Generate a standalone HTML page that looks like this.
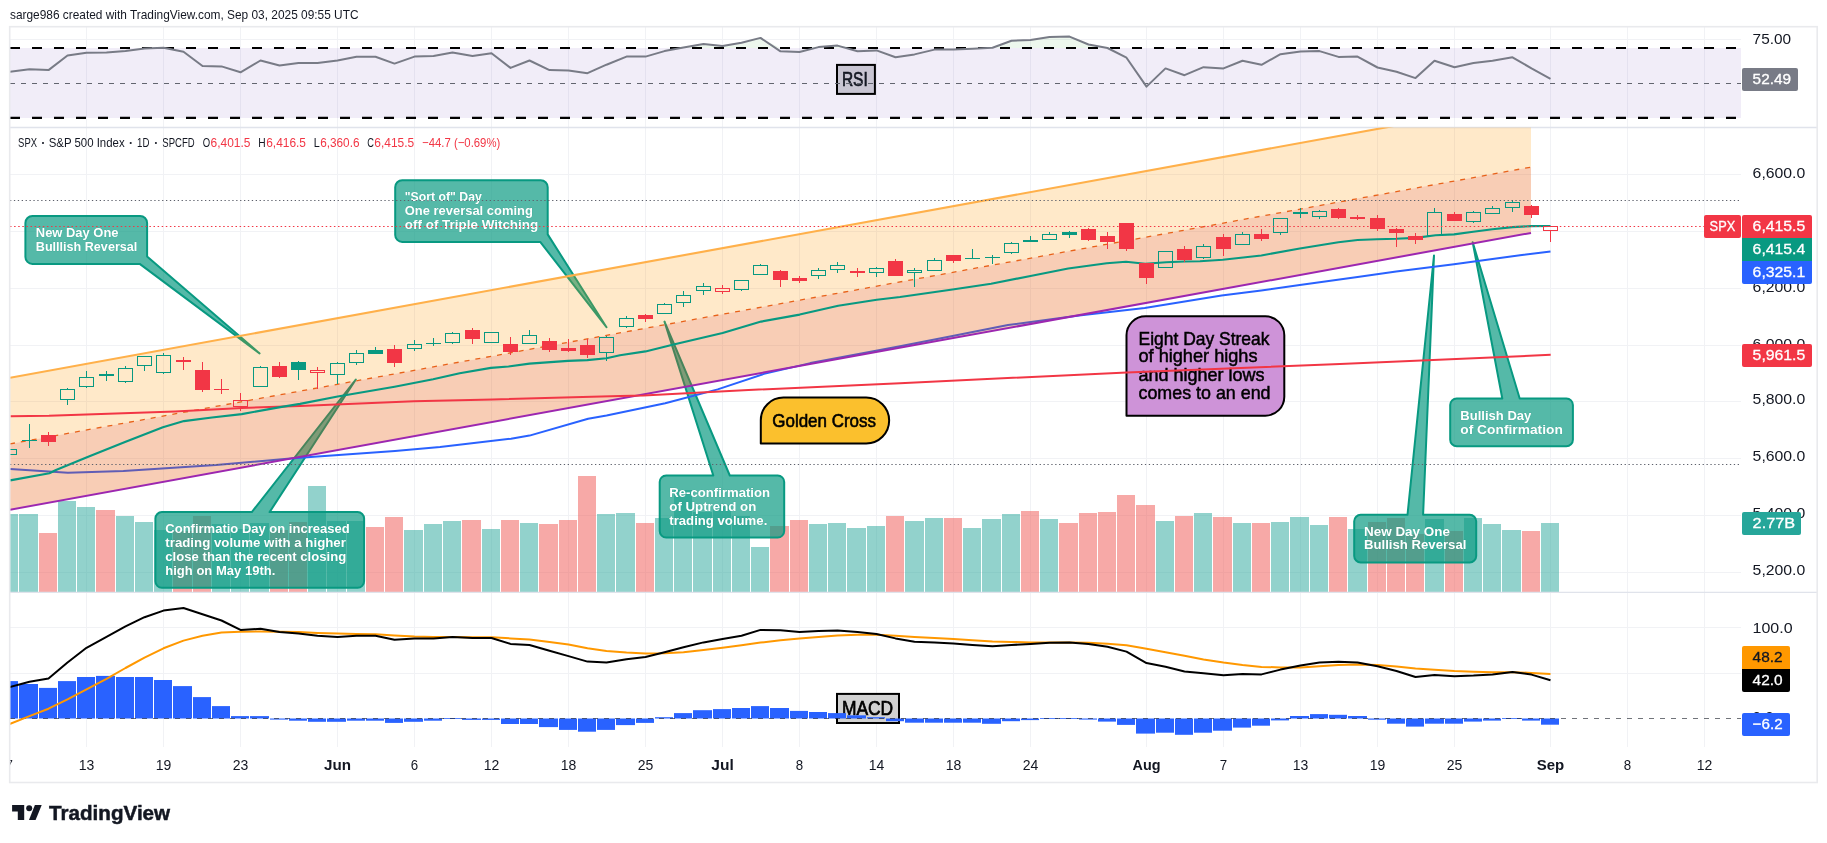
<!DOCTYPE html><html><head><meta charset="utf-8"><title>SPX chart</title><style>html,body{margin:0;padding:0;background:#fff}body{width:1827px;height:843px;overflow:hidden}</style></head><body><svg width="1827" height="843" viewBox="0 0 1827 843" font-family="Liberation Sans, sans-serif" style="display:block;will-change:transform">
<rect width="1827" height="843" fill="#fff"/>
<text x="10" y="19" font-size="13.5" fill="#131722" font-weight="normal" text-anchor="start" textLength="348.5" lengthAdjust="spacingAndGlyphs" >sarge986 created with TradingView.com, Sep 03, 2025 09:55 UTC</text>
<defs><clipPath id="cm"><rect x="10" y="127.5" width="1731" height="464.79999999999995"/></clipPath><clipPath id="cr"><rect x="10" y="27" width="1731" height="100.5"/></clipPath><clipPath id="cd"><rect x="10" y="592.3" width="1731" height="154.70000000000005"/></clipPath><clipPath id="call"><rect x="10" y="127.5" width="1731" height="464.79999999999995"/></clipPath></defs>
<line x1="86.5" y1="27" x2="86.5" y2="747" stroke="#f1f2f5" stroke-width="1"/>
<line x1="163.5" y1="27" x2="163.5" y2="747" stroke="#f1f2f5" stroke-width="1"/>
<line x1="240.5" y1="27" x2="240.5" y2="747" stroke="#f1f2f5" stroke-width="1"/>
<line x1="337.5" y1="27" x2="337.5" y2="747" stroke="#f1f2f5" stroke-width="1"/>
<line x1="414.5" y1="27" x2="414.5" y2="747" stroke="#f1f2f5" stroke-width="1"/>
<line x1="491.5" y1="27" x2="491.5" y2="747" stroke="#f1f2f5" stroke-width="1"/>
<line x1="568.5" y1="27" x2="568.5" y2="747" stroke="#f1f2f5" stroke-width="1"/>
<line x1="645.5" y1="27" x2="645.5" y2="747" stroke="#f1f2f5" stroke-width="1"/>
<line x1="722.5" y1="27" x2="722.5" y2="747" stroke="#f1f2f5" stroke-width="1"/>
<line x1="799.5" y1="27" x2="799.5" y2="747" stroke="#f1f2f5" stroke-width="1"/>
<line x1="876.5" y1="27" x2="876.5" y2="747" stroke="#f1f2f5" stroke-width="1"/>
<line x1="953.5" y1="27" x2="953.5" y2="747" stroke="#f1f2f5" stroke-width="1"/>
<line x1="1030.5" y1="27" x2="1030.5" y2="747" stroke="#f1f2f5" stroke-width="1"/>
<line x1="1146.5" y1="27" x2="1146.5" y2="747" stroke="#f1f2f5" stroke-width="1"/>
<line x1="1223.5" y1="27" x2="1223.5" y2="747" stroke="#f1f2f5" stroke-width="1"/>
<line x1="1300.5" y1="27" x2="1300.5" y2="747" stroke="#f1f2f5" stroke-width="1"/>
<line x1="1377.5" y1="27" x2="1377.5" y2="747" stroke="#f1f2f5" stroke-width="1"/>
<line x1="1454.5" y1="27" x2="1454.5" y2="747" stroke="#f1f2f5" stroke-width="1"/>
<line x1="1550.5" y1="27" x2="1550.5" y2="747" stroke="#f1f2f5" stroke-width="1"/>
<line x1="1627.5" y1="27" x2="1627.5" y2="747" stroke="#f1f2f5" stroke-width="1"/>
<line x1="1704.5" y1="27" x2="1704.5" y2="747" stroke="#f1f2f5" stroke-width="1"/>
<line x1="10" y1="39.5" x2="1741" y2="39.5" stroke="#f1f2f5"/>
<g clip-path="url(#cr)">
<rect x="10" y="48" width="1731" height="70" fill="#7e57c2" fill-opacity="0.11"/>
<path d="M9.5,48.0 L29.5,48.0 L48.5,48.0 L67.5,48.0 L86.5,48.0 L106.5,48.0 L125.5,48.0 L144.5,48.0 L163.5,47.8 L183.5,48.0 L202.5,48.0 L221.5,48.0 L240.5,48.0 L260.5,48.0 L279.5,48.0 L298.5,48.0 L317.5,48.0 L337.5,48.0 L356.5,48.0 L375.5,48.0 L394.5,48.0 L414.5,48.0 L433.5,48.0 L452.5,48.0 L472.5,48.0 L491.5,48.0 L510.5,48.0 L529.5,48.0 L549.5,48.0 L568.5,48.0 L587.5,48.0 L606.5,48.0 L626.5,48.0 L645.5,48.0 L664.5,48.0 L683.5,47.4 L703.5,44.1 L722.5,46.0 L741.5,42.8 L760.5,37.9 L780.5,48.0 L799.5,48.0 L818.5,47.1 L837.5,45.6 L857.5,48.0 L876.5,48.0 L895.5,48.0 L914.5,48.0 L934.5,48.0 L953.5,48.0 L972.5,48.0 L992.5,47.8 L1011.5,40.8 L1030.5,39.9 L1049.5,36.9 L1069.5,36.6 L1088.5,44.5 L1107.5,48.0 L1126.5,48.0 L1146.5,48.0 L1165.5,48.0 L1184.5,48.0 L1203.5,48.0 L1223.5,48.0 L1242.5,48.0 L1261.5,48.0 L1280.5,48.0 L1300.5,48.0 L1319.5,48.0 L1338.5,48.0 L1357.5,48.0 L1377.5,48.0 L1396.5,48.0 L1415.5,48.0 L1434.5,48.0 L1454.5,48.0 L1473.5,48.0 L1492.5,48.0 L1512.5,48.0 L1531.5,48.0 L1550.5,48.0 L1550.5,48 L9.5,48 Z" fill="#4caf50" fill-opacity="0.1"/>
<rect x="837" y="64.9" width="37.9" height="29" fill="#c8c5d2" stroke="#000" stroke-width="2"/>
<text x="841.9" y="86" font-size="20" fill="#131722" font-weight="normal" text-anchor="start" textLength="25.8" lengthAdjust="spacingAndGlyphs" stroke="#131722" stroke-width="0.7">RSI</text>
<line x1="10" y1="83.5" x2="1741" y2="83.5" stroke="#62656f" stroke-width="1" stroke-dasharray="5 6"/>
<line x1="10" y1="48" x2="1741" y2="48" stroke="#000" stroke-width="2.2" stroke-dasharray="10 12"/>
<line x1="10" y1="117.9" x2="1741" y2="117.9" stroke="#000" stroke-width="2.2" stroke-dasharray="10 12"/>
<polyline fill="none" stroke="#787b86" stroke-width="2" stroke-linejoin="round" points="9.5,71.9 29.5,69.3 48.5,70.1 67.5,55.5 86.5,52.8 106.5,52.4 125.5,51.1 144.5,48.5 163.5,47.8 183.5,51.7 202.5,66.0 221.5,66.4 240.5,72.3 260.5,60.5 279.5,65.5 298.5,63.1 317.5,63.1 337.5,60.5 356.5,56.8 375.5,56.8 394.5,63.6 414.5,56.6 433.5,55.9 452.5,52.6 472.5,55.9 491.5,53.3 510.5,67.9 529.5,60.5 549.5,70.1 568.5,70.4 587.5,73.2 606.5,64.7 626.5,56.6 645.5,56.6 664.5,51.1 683.5,47.4 703.5,44.1 722.5,46.0 741.5,42.8 760.5,37.9 780.5,51.3 799.5,52.0 818.5,47.1 837.5,45.6 857.5,51.3 876.5,50.4 895.5,57.2 914.5,54.4 934.5,49.6 953.5,49.6 972.5,48.7 992.5,47.8 1011.5,40.8 1030.5,39.9 1049.5,36.9 1069.5,36.6 1088.5,44.5 1107.5,48.0 1126.5,57.7 1146.5,86.6 1165.5,68.4 1184.5,75.2 1203.5,67.2 1223.5,68.4 1242.5,60.7 1261.5,64.8 1280.5,54.2 1300.5,51.6 1319.5,51.1 1338.5,56.9 1357.5,56.6 1377.5,67.5 1396.5,71.8 1415.5,78.1 1434.5,60.7 1454.5,67.2 1473.5,63.1 1492.5,60.7 1512.5,57.3 1531.5,68.4 1550.5,78.8"/>
</g>
<line x1="10" y1="127.5" x2="1817.2" y2="127.5" stroke="#e0e3eb" stroke-width="1.3"/>
<line x1="10" y1="174.5" x2="1741" y2="174.5" stroke="#f1f2f5"/>
<line x1="10" y1="231.5" x2="1741" y2="231.5" stroke="#f1f2f5"/>
<line x1="10" y1="288.5" x2="1741" y2="288.5" stroke="#f1f2f5"/>
<line x1="10" y1="345.5" x2="1741" y2="345.5" stroke="#f1f2f5"/>
<line x1="10" y1="401.5" x2="1741" y2="401.5" stroke="#f1f2f5"/>
<line x1="10" y1="458.5" x2="1741" y2="458.5" stroke="#f1f2f5"/>
<line x1="10" y1="515.5" x2="1741" y2="515.5" stroke="#f1f2f5"/>
<line x1="10" y1="572.5" x2="1741" y2="572.5" stroke="#f1f2f5"/>
<g clip-path="url(#cm)">
<rect x="0" y="514" width="18" height="78" fill="#26a69a" fill-opacity="0.5"/>
<rect x="19" y="514" width="19" height="78" fill="#26a69a" fill-opacity="0.5"/>
<rect x="39" y="533" width="18" height="59" fill="#ef5350" fill-opacity="0.5"/>
<rect x="58" y="501" width="18" height="91" fill="#26a69a" fill-opacity="0.5"/>
<rect x="77" y="507" width="18" height="85" fill="#26a69a" fill-opacity="0.5"/>
<rect x="96" y="510" width="19" height="82" fill="#ef5350" fill-opacity="0.5"/>
<rect x="116" y="516" width="18" height="76" fill="#26a69a" fill-opacity="0.5"/>
<rect x="135" y="522" width="18" height="70" fill="#26a69a" fill-opacity="0.5"/>
<rect x="154" y="530" width="18" height="62" fill="#26a69a" fill-opacity="0.5"/>
<rect x="173" y="531" width="19" height="61" fill="#ef5350" fill-opacity="0.5"/>
<rect x="193" y="516" width="18" height="76" fill="#ef5350" fill-opacity="0.5"/>
<rect x="212" y="524" width="18" height="68" fill="#26a69a" fill-opacity="0.5"/>
<rect x="231" y="529" width="18" height="63" fill="#26a69a" fill-opacity="0.5"/>
<rect x="250" y="523" width="19" height="69" fill="#26a69a" fill-opacity="0.5"/>
<rect x="270" y="530" width="18" height="62" fill="#ef5350" fill-opacity="0.5"/>
<rect x="289" y="522" width="18" height="70" fill="#ef5350" fill-opacity="0.5"/>
<rect x="308" y="486" width="18" height="106" fill="#26a69a" fill-opacity="0.5"/>
<rect x="327" y="521" width="19" height="71" fill="#26a69a" fill-opacity="0.5"/>
<rect x="347" y="521" width="18" height="71" fill="#26a69a" fill-opacity="0.5"/>
<rect x="366" y="527" width="18" height="65" fill="#ef5350" fill-opacity="0.5"/>
<rect x="385" y="517" width="18" height="75" fill="#ef5350" fill-opacity="0.5"/>
<rect x="404" y="530" width="19" height="62" fill="#26a69a" fill-opacity="0.5"/>
<rect x="424" y="524" width="18" height="68" fill="#26a69a" fill-opacity="0.5"/>
<rect x="443" y="521" width="18" height="71" fill="#26a69a" fill-opacity="0.5"/>
<rect x="462" y="520" width="19" height="72" fill="#ef5350" fill-opacity="0.5"/>
<rect x="482" y="529" width="18" height="63" fill="#26a69a" fill-opacity="0.5"/>
<rect x="501" y="520" width="18" height="72" fill="#ef5350" fill-opacity="0.5"/>
<rect x="520" y="523" width="18" height="69" fill="#26a69a" fill-opacity="0.5"/>
<rect x="539" y="524" width="19" height="68" fill="#ef5350" fill-opacity="0.5"/>
<rect x="559" y="520" width="18" height="72" fill="#ef5350" fill-opacity="0.5"/>
<rect x="578" y="476" width="18" height="116" fill="#ef5350" fill-opacity="0.5"/>
<rect x="597" y="514" width="18" height="78" fill="#26a69a" fill-opacity="0.5"/>
<rect x="616" y="513" width="19" height="79" fill="#26a69a" fill-opacity="0.5"/>
<rect x="636" y="523" width="18" height="69" fill="#ef5350" fill-opacity="0.5"/>
<rect x="655" y="518" width="18" height="74" fill="#26a69a" fill-opacity="0.5"/>
<rect x="674" y="490" width="18" height="102" fill="#26a69a" fill-opacity="0.5"/>
<rect x="693" y="512" width="19" height="80" fill="#26a69a" fill-opacity="0.5"/>
<rect x="713" y="505" width="18" height="87" fill="#26a69a" fill-opacity="0.5"/>
<rect x="732" y="516" width="18" height="76" fill="#26a69a" fill-opacity="0.5"/>
<rect x="751" y="547" width="18" height="45" fill="#26a69a" fill-opacity="0.5"/>
<rect x="770" y="526" width="19" height="66" fill="#ef5350" fill-opacity="0.5"/>
<rect x="790" y="520" width="18" height="72" fill="#ef5350" fill-opacity="0.5"/>
<rect x="809" y="524" width="18" height="68" fill="#26a69a" fill-opacity="0.5"/>
<rect x="828" y="523" width="18" height="69" fill="#26a69a" fill-opacity="0.5"/>
<rect x="847" y="528" width="19" height="64" fill="#26a69a" fill-opacity="0.5"/>
<rect x="867" y="526" width="18" height="66" fill="#26a69a" fill-opacity="0.5"/>
<rect x="886" y="516" width="18" height="76" fill="#ef5350" fill-opacity="0.5"/>
<rect x="905" y="521" width="19" height="71" fill="#26a69a" fill-opacity="0.5"/>
<rect x="925" y="518" width="18" height="74" fill="#26a69a" fill-opacity="0.5"/>
<rect x="944" y="518" width="18" height="74" fill="#ef5350" fill-opacity="0.5"/>
<rect x="963" y="528" width="18" height="64" fill="#26a69a" fill-opacity="0.5"/>
<rect x="982" y="519" width="19" height="73" fill="#26a69a" fill-opacity="0.5"/>
<rect x="1002" y="514" width="18" height="78" fill="#26a69a" fill-opacity="0.5"/>
<rect x="1021" y="511" width="18" height="81" fill="#ef5350" fill-opacity="0.5"/>
<rect x="1040" y="519" width="18" height="73" fill="#26a69a" fill-opacity="0.5"/>
<rect x="1059" y="523" width="19" height="69" fill="#ef5350" fill-opacity="0.5"/>
<rect x="1079" y="513" width="18" height="79" fill="#ef5350" fill-opacity="0.5"/>
<rect x="1098" y="512" width="18" height="80" fill="#ef5350" fill-opacity="0.5"/>
<rect x="1117" y="495" width="18" height="97" fill="#ef5350" fill-opacity="0.5"/>
<rect x="1136" y="505" width="19" height="87" fill="#ef5350" fill-opacity="0.5"/>
<rect x="1156" y="521" width="18" height="71" fill="#26a69a" fill-opacity="0.5"/>
<rect x="1175" y="516" width="18" height="76" fill="#ef5350" fill-opacity="0.5"/>
<rect x="1194" y="513" width="18" height="79" fill="#26a69a" fill-opacity="0.5"/>
<rect x="1213" y="517" width="19" height="75" fill="#ef5350" fill-opacity="0.5"/>
<rect x="1233" y="523" width="18" height="69" fill="#26a69a" fill-opacity="0.5"/>
<rect x="1252" y="523" width="18" height="69" fill="#ef5350" fill-opacity="0.5"/>
<rect x="1271" y="522" width="18" height="70" fill="#26a69a" fill-opacity="0.5"/>
<rect x="1290" y="517" width="19" height="75" fill="#26a69a" fill-opacity="0.5"/>
<rect x="1310" y="525" width="18" height="67" fill="#26a69a" fill-opacity="0.5"/>
<rect x="1329" y="517" width="18" height="75" fill="#ef5350" fill-opacity="0.5"/>
<rect x="1348" y="529" width="19" height="63" fill="#26a69a" fill-opacity="0.5"/>
<rect x="1368" y="522" width="18" height="70" fill="#ef5350" fill-opacity="0.5"/>
<rect x="1387" y="518" width="18" height="74" fill="#ef5350" fill-opacity="0.5"/>
<rect x="1406" y="534" width="18" height="58" fill="#ef5350" fill-opacity="0.5"/>
<rect x="1425" y="519" width="19" height="73" fill="#26a69a" fill-opacity="0.5"/>
<rect x="1445" y="531" width="18" height="61" fill="#ef5350" fill-opacity="0.5"/>
<rect x="1464" y="518" width="18" height="74" fill="#26a69a" fill-opacity="0.5"/>
<rect x="1483" y="524" width="18" height="68" fill="#26a69a" fill-opacity="0.5"/>
<rect x="1502" y="530" width="19" height="62" fill="#26a69a" fill-opacity="0.5"/>
<rect x="1522" y="531" width="18" height="61" fill="#ef5350" fill-opacity="0.5"/>
<rect x="1541" y="523" width="18" height="69" fill="#26a69a" fill-opacity="0.5"/>
<path d="M161.9,512.1 L251.8,512.1 L355.8,379.5 L269.6,512.1 L357.6,512.1 A6.5,6.5 0 0 1 364.1,518.6 L364.1,581.3 A6.5,6.5 0 0 1 357.6,587.8 L161.9,587.8 A6.5,6.5 0 0 1 155.4,581.3 L155.4,518.6 A6.5,6.5 0 0 1 161.9,512.1 Z" fill="#089981" fill-opacity="0.69" stroke="#089981" stroke-width="2" stroke-linejoin="round"/>
<text x="165.3" y="533.2" font-size="13.6" fill="#fff" font-weight="bold" text-anchor="start" textLength="184.3" lengthAdjust="spacingAndGlyphs" stroke="#0a7d6a" stroke-opacity="0.3" stroke-width="0.5" paint-order="stroke">Confirmatio Day on increased</text>
<text x="165.3" y="547.2" font-size="13.6" fill="#fff" font-weight="bold" text-anchor="start" textLength="180.6" lengthAdjust="spacingAndGlyphs" stroke="#0a7d6a" stroke-opacity="0.3" stroke-width="0.5" paint-order="stroke">trading volume with a higher</text>
<text x="165.3" y="561.2" font-size="13.6" fill="#fff" font-weight="bold" text-anchor="start" textLength="181" lengthAdjust="spacingAndGlyphs" stroke="#0a7d6a" stroke-opacity="0.3" stroke-width="0.5" paint-order="stroke">close than the recent closing</text>
<text x="165.3" y="575.2" font-size="13.6" fill="#fff" font-weight="bold" text-anchor="start" textLength="110" lengthAdjust="spacingAndGlyphs" stroke="#0a7d6a" stroke-opacity="0.3" stroke-width="0.5" paint-order="stroke">high on May 19th.</text>
<path d="M666.2,475.5 L713.3,475.5 L664.5,321.6 L729.8,475.5 L777.7,475.5 A6.5,6.5 0 0 1 784.2,482.0 L784.2,531.0 A6.5,6.5 0 0 1 777.7,537.5 L666.2,537.5 A6.5,6.5 0 0 1 659.7,531.0 L659.7,482.0 A6.5,6.5 0 0 1 666.2,475.5 Z" fill="#089981" fill-opacity="0.69" stroke="#089981" stroke-width="2" stroke-linejoin="round"/>
<text x="669.3" y="497.3" font-size="13.6" fill="#fff" font-weight="bold" text-anchor="start" textLength="100.8" lengthAdjust="spacingAndGlyphs" stroke="#0a7d6a" stroke-opacity="0.3" stroke-width="0.5" paint-order="stroke">Re-confirmation</text>
<text x="669.3" y="511.2" font-size="13.6" fill="#fff" font-weight="bold" text-anchor="start" textLength="87" lengthAdjust="spacingAndGlyphs" stroke="#0a7d6a" stroke-opacity="0.3" stroke-width="0.5" paint-order="stroke">of Uptrend on</text>
<text x="669.3" y="525.1" font-size="13.6" fill="#fff" font-weight="bold" text-anchor="start" textLength="98" lengthAdjust="spacingAndGlyphs" stroke="#0a7d6a" stroke-opacity="0.3" stroke-width="0.5" paint-order="stroke">trading volume.</text>
<path d="M32.4,215.9 L140.1,215.9 A7,7 0 0 1 147.1,222.9 L147.1,256.4 L259.6,353.4 L139.7,263.9 L32.4,263.9 A7,7 0 0 1 25.4,256.9 L25.4,222.9 A7,7 0 0 1 32.4,215.9 Z" fill="#089981" fill-opacity="0.69" stroke="#089981" stroke-width="2" stroke-linejoin="round"/>
<text x="35.8" y="236.7" font-size="13.6" fill="#fff" font-weight="bold" text-anchor="start" textLength="82.7" lengthAdjust="spacingAndGlyphs" stroke="#0a7d6a" stroke-opacity="0.3" stroke-width="0.5" paint-order="stroke">New Day One</text>
<text x="35.8" y="250.6" font-size="13.6" fill="#fff" font-weight="bold" text-anchor="start" textLength="101.5" lengthAdjust="spacingAndGlyphs" stroke="#0a7d6a" stroke-opacity="0.3" stroke-width="0.5" paint-order="stroke">Bulllish Reversal</text>
<path d="M402.2,180.2 L540.7,180.2 A7,7 0 0 1 547.7,187.2 L547.7,234.4 L606.5,327.2 L540.2,241.9 L402.2,241.9 A7,7 0 0 1 395.2,234.9 L395.2,187.2 A7,7 0 0 1 402.2,180.2 Z" fill="#089981" fill-opacity="0.69" stroke="#089981" stroke-width="2" stroke-linejoin="round"/>
<text x="404.8" y="200.8" font-size="13.6" fill="#fff" font-weight="bold" text-anchor="start" textLength="77" lengthAdjust="spacingAndGlyphs" stroke="#0a7d6a" stroke-opacity="0.3" stroke-width="0.5" paint-order="stroke">"Sort of" Day</text>
<text x="404.8" y="214.9" font-size="13.6" fill="#fff" font-weight="bold" text-anchor="start" textLength="128" lengthAdjust="spacingAndGlyphs" stroke="#0a7d6a" stroke-opacity="0.3" stroke-width="0.5" paint-order="stroke">One reversal coming</text>
<text x="404.8" y="229.0" font-size="13.6" fill="#fff" font-weight="bold" text-anchor="start" textLength="133.4" lengthAdjust="spacingAndGlyphs" stroke="#0a7d6a" stroke-opacity="0.3" stroke-width="0.5" paint-order="stroke">off of Triple Witching</text>
<path d="M1456.7,398.5 L1502.3,398.5 L1472.7,242.3 L1519.7,398.5 L1566.4,398.5 A6.5,6.5 0 0 1 1572.9,405.0 L1572.9,439.7 A6.5,6.5 0 0 1 1566.4,446.2 L1456.7,446.2 A6.5,6.5 0 0 1 1450.2,439.7 L1450.2,405.0 A6.5,6.5 0 0 1 1456.7,398.5 Z" fill="#089981" fill-opacity="0.69" stroke="#089981" stroke-width="2" stroke-linejoin="round"/>
<text x="1460.3" y="419.6" font-size="13.6" fill="#fff" font-weight="bold" text-anchor="start" textLength="71" lengthAdjust="spacingAndGlyphs" stroke="#0a7d6a" stroke-opacity="0.3" stroke-width="0.5" paint-order="stroke">Bullish Day</text>
<text x="1460.3" y="433.9" font-size="13.6" fill="#fff" font-weight="bold" text-anchor="start" textLength="102.5" lengthAdjust="spacingAndGlyphs" stroke="#0a7d6a" stroke-opacity="0.3" stroke-width="0.5" paint-order="stroke">of Confirmation</text>
<path d="M1360.7,514.8 L1407.5,514.8 L1434,255.5 L1423.1,514.8 L1469.7,514.8 A6.5,6.5 0 0 1 1476.2,521.3 L1476.2,555.9 A6.5,6.5 0 0 1 1469.7,562.4 L1360.7,562.4 A6.5,6.5 0 0 1 1354.2,555.9 L1354.2,521.3 A6.5,6.5 0 0 1 1360.7,514.8 Z" fill="#089981" fill-opacity="0.69" stroke="#089981" stroke-width="2" stroke-linejoin="round"/>
<text x="1364" y="535.5" font-size="13.6" fill="#fff" font-weight="bold" text-anchor="start" textLength="86" lengthAdjust="spacingAndGlyphs" stroke="#0a7d6a" stroke-opacity="0.3" stroke-width="0.5" paint-order="stroke">New Day One</text>
<text x="1364" y="549.1" font-size="13.6" fill="#fff" font-weight="bold" text-anchor="start" textLength="102.4" lengthAdjust="spacingAndGlyphs" stroke="#0a7d6a" stroke-opacity="0.3" stroke-width="0.5" paint-order="stroke">Bullish Reversal</text>
<path d="M760.8,443.5 L760.8,420.2 A22.6,22.6 0 0 1 783.4,397.6 L866.2,397.6 A22.95,22.95 0 0 1 866.2,443.5 Z" fill="#fbc02d" stroke="#000" stroke-width="2" stroke-linejoin="round"/>
<text x="772.3" y="427.2" font-size="18.5" fill="#000" font-weight="normal" text-anchor="start" textLength="103.7" lengthAdjust="spacingAndGlyphs" stroke="#000" stroke-width="0.6">Golden Cross</text>
<path d="M1126.5,415.7 L1126.5,335.3 A19,19 0 0 1 1145.5,316.3 L1265.3,316.3 A19,19 0 0 1 1284.3,335.3 L1284.3,396.7 A19,19 0 0 1 1265.3,415.7 Z" fill="#ce93d8" stroke="#000" stroke-width="2" stroke-linejoin="round"/>
<text x="1138.5" y="344.9" font-size="18.5" fill="#000" font-weight="normal" text-anchor="start" textLength="131" lengthAdjust="spacingAndGlyphs" stroke="#000" stroke-width="0.5">Eight Day Streak</text>
<text x="1138.5" y="362.3" font-size="18.5" fill="#000" font-weight="normal" text-anchor="start" textLength="119" lengthAdjust="spacingAndGlyphs" stroke="#000" stroke-width="0.5">of higher highs</text>
<text x="1138.5" y="380.7" font-size="18.5" fill="#000" font-weight="normal" text-anchor="start" textLength="126" lengthAdjust="spacingAndGlyphs" stroke="#000" stroke-width="0.5">and higher lows</text>
<text x="1138.5" y="398.8" font-size="18.5" fill="#000" font-weight="normal" text-anchor="start" textLength="132" lengthAdjust="spacingAndGlyphs" stroke="#000" stroke-width="0.5">comes to an end</text>
<polyline fill="none" stroke="#2962ff" stroke-width="2" stroke-linejoin="round" points="10.2,469 67.9,472.7 123.4,471.1 216,465 293,458.2 395,451.1 440,447.1 511,438.7 529.5,435.6 588.1,418.7 606.6,415.6 665.2,403.3 717.7,389.4 764,373.9 810.3,363.1 872,351.4 900,346.2 950,336.5 1008,325 1079,315.6 1144.7,307.9 1221.6,295.5 1261.3,290.4 1299.8,285.1 1357.6,276.9 1396.2,271.6 1454,264.3 1520,255.3 1550.5,251.4"/>
<polygon points="10,377.8 1531,101.0 1531,167.1 10,443.9" fill="#ff9800" fill-opacity="0.21"/>
<polygon points="10,443.9 1531,167.1 1531,232.9 10,509.7" fill="#e65100" fill-opacity="0.29"/>
<line x1="10" y1="377.8" x2="1531" y2="101.0" stroke="#ffb04a" stroke-width="2.1"/>
<line x1="10" y1="443.9" x2="1531" y2="167.1" stroke="#e8621a" stroke-width="1.3" stroke-dasharray="5 6"/>
<line x1="10" y1="509.7" x2="1531" y2="232.9" stroke="#9c27b0" stroke-width="2"/>
<polyline fill="none" stroke="#f23645" stroke-width="2" stroke-linejoin="round" points="10.5,416.2 49,415.8 175.2,411.4 241.7,407.9 300,406 413.9,401.2 492.7,399.5 620,396 643.6,395.5 748.5,390 900,383.2 1126.8,372.4 1340,364.1 1550.7,354.8"/>
<polyline fill="none" stroke="#089981" stroke-width="2.1" stroke-linejoin="round" points="10.2,480.4 49.4,473.3 56,470 87.6,457 125,442 162.9,427.2 183.9,421.1 212,417.5 241.7,414.1 280.3,407.1 300,403.9 337.7,396.5 394.6,386.7 433.1,379.3 459.7,373.3 490.9,367.9 508.4,366.5 529.5,363.6 568,360.9 587.3,360.1 606.5,358.3 620,355.3 645.5,351.4 673.6,344.4 722.6,333 761.1,321.6 799.7,314.6 838.2,305.8 876.8,299.7 900,297 952.5,289.5 991.1,283.7 1030.5,276 1068.2,268.5 1106.7,263.2 1126,261.8 1145.2,263.7 1166.2,262.3 1184.6,261.5 1200,261.2 1222.8,259.8 1261.3,255.5 1299.8,248.5 1338.4,242.3 1357.6,240 1376.9,239.2 1396.2,238.8 1415.4,237.9 1435.6,235.3 1454,234.4 1473.2,231.8 1492.5,229.2 1512.7,227.1 1531,226.1 1550.5,226"/>
<rect x="9.0" y="447" width="1" height="2" fill="#089981"/>
<rect x="9.0" y="455" width="1" height="1" fill="#089981"/>
<rect x="2.5" y="449.5" width="14" height="5" fill="none" stroke="#089981" stroke-width="1"/>
<rect x="29.0" y="424" width="1" height="24" fill="#089981"/>
<rect x="22.0" y="440" width="15" height="1" fill="#089981"/>
<rect x="48.0" y="432" width="1" height="14" fill="#f23645"/>
<rect x="41.0" y="435" width="15" height="7" fill="#f23645"/>
<rect x="67.0" y="388" width="1" height="1" fill="#089981"/>
<rect x="67.0" y="400" width="1" height="5" fill="#089981"/>
<rect x="60.5" y="389.5" width="14" height="10" fill="none" stroke="#089981" stroke-width="1"/>
<rect x="86.0" y="371" width="1" height="6" fill="#089981"/>
<rect x="86.0" y="387" width="1" height="1" fill="#089981"/>
<rect x="79.5" y="377.5" width="14" height="9" fill="none" stroke="#089981" stroke-width="1"/>
<rect x="106.0" y="371" width="1" height="10" fill="#089981"/>
<rect x="99.0" y="374" width="15" height="2" fill="#089981"/>
<rect x="125.0" y="366" width="1" height="2" fill="#089981"/>
<rect x="125.0" y="382" width="1" height="1" fill="#089981"/>
<rect x="118.5" y="368.5" width="14" height="13" fill="none" stroke="#089981" stroke-width="1"/>
<rect x="144.0" y="366" width="1" height="5" fill="#089981"/>
<rect x="137.5" y="356.5" width="14" height="9" fill="none" stroke="#089981" stroke-width="1"/>
<rect x="163.0" y="353" width="1" height="2" fill="#089981"/>
<rect x="163.0" y="373" width="1" height="1" fill="#089981"/>
<rect x="156.5" y="355.5" width="14" height="17" fill="none" stroke="#089981" stroke-width="1"/>
<rect x="183.0" y="357" width="1" height="13" fill="#f23645"/>
<rect x="176.0" y="360" width="15" height="2" fill="#f23645"/>
<rect x="202.0" y="362" width="1" height="30" fill="#f23645"/>
<rect x="195.0" y="370" width="15" height="20" fill="#f23645"/>
<rect x="221.0" y="379" width="1" height="15" fill="#f23645"/>
<rect x="214.0" y="389" width="15" height="1" fill="#f23645"/>
<rect x="240.0" y="393" width="1" height="7" fill="#f23645"/>
<rect x="240.0" y="407" width="1" height="4" fill="#f23645"/>
<rect x="233.5" y="400.5" width="14" height="6" fill="none" stroke="#f23645" stroke-width="1"/>
<rect x="260.0" y="366" width="1" height="1" fill="#089981"/>
<rect x="253.5" y="367.5" width="14" height="19" fill="none" stroke="#089981" stroke-width="1"/>
<rect x="279.0" y="362" width="1" height="16" fill="#f23645"/>
<rect x="272.0" y="366" width="15" height="11" fill="#f23645"/>
<rect x="298.0" y="361" width="1" height="19" fill="#089981"/>
<rect x="291.0" y="362" width="15" height="8" fill="#089981"/>
<rect x="317.0" y="367" width="1" height="3" fill="#f23645"/>
<rect x="317.0" y="373" width="1" height="16" fill="#f23645"/>
<rect x="310.5" y="370.5" width="14" height="2" fill="none" stroke="#f23645" stroke-width="1"/>
<rect x="337.0" y="362" width="1" height="1" fill="#089981"/>
<rect x="337.0" y="375" width="1" height="9" fill="#089981"/>
<rect x="330.5" y="363.5" width="14" height="11" fill="none" stroke="#089981" stroke-width="1"/>
<rect x="356.0" y="350" width="1" height="3" fill="#089981"/>
<rect x="356.0" y="363" width="1" height="2" fill="#089981"/>
<rect x="349.5" y="353.5" width="14" height="9" fill="none" stroke="#089981" stroke-width="1"/>
<rect x="375.0" y="347" width="1" height="7" fill="#089981"/>
<rect x="368.0" y="350" width="15" height="4" fill="#089981"/>
<rect x="394.0" y="345" width="1" height="22" fill="#f23645"/>
<rect x="387.0" y="349" width="15" height="14" fill="#f23645"/>
<rect x="414.0" y="340" width="1" height="4" fill="#089981"/>
<rect x="414.0" y="349" width="1" height="2" fill="#089981"/>
<rect x="407.5" y="344.5" width="14" height="4" fill="none" stroke="#089981" stroke-width="1"/>
<rect x="433.0" y="338" width="1" height="8" fill="#089981"/>
<rect x="426.0" y="343" width="15" height="1" fill="#089981"/>
<rect x="452.0" y="332" width="1" height="1" fill="#089981"/>
<rect x="452.0" y="343" width="1" height="1" fill="#089981"/>
<rect x="445.5" y="333.5" width="14" height="9" fill="none" stroke="#089981" stroke-width="1"/>
<rect x="472.0" y="328" width="1" height="16" fill="#f23645"/>
<rect x="465.0" y="330" width="15" height="9" fill="#f23645"/>
<rect x="484.5" y="332.5" width="14" height="10" fill="none" stroke="#089981" stroke-width="1"/>
<rect x="510.0" y="337" width="1" height="18" fill="#f23645"/>
<rect x="503.0" y="344" width="15" height="8" fill="#f23645"/>
<rect x="529.0" y="330" width="1" height="5" fill="#089981"/>
<rect x="522.5" y="335.5" width="14" height="8" fill="none" stroke="#089981" stroke-width="1"/>
<rect x="549.0" y="338" width="1" height="14" fill="#f23645"/>
<rect x="542.0" y="341" width="15" height="9" fill="#f23645"/>
<rect x="568.0" y="339" width="1" height="13" fill="#f23645"/>
<rect x="561.0" y="348" width="15" height="3" fill="#f23645"/>
<rect x="587.0" y="339" width="1" height="19" fill="#f23645"/>
<rect x="580.0" y="345" width="15" height="10" fill="#f23645"/>
<rect x="606.0" y="336" width="1" height="1" fill="#089981"/>
<rect x="606.0" y="353" width="1" height="8" fill="#089981"/>
<rect x="599.5" y="337.5" width="14" height="15" fill="none" stroke="#089981" stroke-width="1"/>
<rect x="626.0" y="316" width="1" height="2" fill="#089981"/>
<rect x="626.0" y="327" width="1" height="1" fill="#089981"/>
<rect x="619.5" y="318.5" width="14" height="8" fill="none" stroke="#089981" stroke-width="1"/>
<rect x="645.0" y="314" width="1" height="8" fill="#f23645"/>
<rect x="638.0" y="315" width="15" height="4" fill="#f23645"/>
<rect x="664.0" y="303" width="1" height="1" fill="#089981"/>
<rect x="657.5" y="304.5" width="14" height="9" fill="none" stroke="#089981" stroke-width="1"/>
<rect x="683.0" y="291" width="1" height="4" fill="#089981"/>
<rect x="683.0" y="303" width="1" height="4" fill="#089981"/>
<rect x="676.5" y="295.5" width="14" height="7" fill="none" stroke="#089981" stroke-width="1"/>
<rect x="703.0" y="283" width="1" height="3" fill="#089981"/>
<rect x="703.0" y="291" width="1" height="4" fill="#089981"/>
<rect x="696.5" y="286.5" width="14" height="4" fill="none" stroke="#089981" stroke-width="1"/>
<rect x="722.0" y="285" width="1" height="3" fill="#f23645"/>
<rect x="722.0" y="292" width="1" height="2" fill="#f23645"/>
<rect x="715.5" y="288.5" width="14" height="3" fill="none" stroke="#f23645" stroke-width="1"/>
<rect x="741.0" y="290" width="1" height="1" fill="#089981"/>
<rect x="734.5" y="280.5" width="14" height="9" fill="none" stroke="#089981" stroke-width="1"/>
<rect x="760.0" y="264" width="1" height="1" fill="#089981"/>
<rect x="753.5" y="265.5" width="14" height="9" fill="none" stroke="#089981" stroke-width="1"/>
<rect x="780.0" y="270" width="1" height="17" fill="#f23645"/>
<rect x="773.0" y="271" width="15" height="9" fill="#f23645"/>
<rect x="799.0" y="276" width="1" height="7" fill="#f23645"/>
<rect x="792.0" y="278" width="15" height="3" fill="#f23645"/>
<rect x="818.0" y="268" width="1" height="2" fill="#089981"/>
<rect x="818.0" y="276" width="1" height="3" fill="#089981"/>
<rect x="811.5" y="270.5" width="14" height="5" fill="none" stroke="#089981" stroke-width="1"/>
<rect x="837.0" y="262" width="1" height="3" fill="#089981"/>
<rect x="837.0" y="270" width="1" height="3" fill="#089981"/>
<rect x="830.5" y="265.5" width="14" height="4" fill="none" stroke="#089981" stroke-width="1"/>
<rect x="857.0" y="268" width="1" height="9" fill="#f23645"/>
<rect x="850.0" y="271" width="15" height="2" fill="#f23645"/>
<rect x="876.0" y="267" width="1" height="1" fill="#089981"/>
<rect x="876.0" y="273" width="1" height="4" fill="#089981"/>
<rect x="869.5" y="268.5" width="14" height="4" fill="none" stroke="#089981" stroke-width="1"/>
<rect x="895.0" y="259" width="1" height="17" fill="#f23645"/>
<rect x="888.0" y="261" width="15" height="15" fill="#f23645"/>
<rect x="914.0" y="268" width="1" height="2" fill="#089981"/>
<rect x="914.0" y="273" width="1" height="14" fill="#089981"/>
<rect x="907.5" y="270.5" width="14" height="2" fill="none" stroke="#089981" stroke-width="1"/>
<rect x="934.0" y="258" width="1" height="2" fill="#089981"/>
<rect x="927.5" y="260.5" width="14" height="10" fill="none" stroke="#089981" stroke-width="1"/>
<rect x="953.0" y="255" width="1" height="8" fill="#f23645"/>
<rect x="946.0" y="255" width="15" height="6" fill="#f23645"/>
<rect x="972.0" y="249" width="1" height="10" fill="#089981"/>
<rect x="965.0" y="258" width="15" height="1" fill="#089981"/>
<rect x="992.0" y="255" width="1" height="9" fill="#089981"/>
<rect x="985.0" y="257" width="15" height="1" fill="#089981"/>
<rect x="1011.0" y="242" width="1" height="1" fill="#089981"/>
<rect x="1011.0" y="253" width="1" height="1" fill="#089981"/>
<rect x="1004.5" y="243.5" width="14" height="9" fill="none" stroke="#089981" stroke-width="1"/>
<rect x="1030.0" y="236" width="1" height="6" fill="#089981"/>
<rect x="1023.0" y="240" width="15" height="2" fill="#089981"/>
<rect x="1049.0" y="232" width="1" height="2" fill="#089981"/>
<rect x="1042.5" y="234.5" width="14" height="5" fill="none" stroke="#089981" stroke-width="1"/>
<rect x="1069.0" y="231" width="1" height="7" fill="#089981"/>
<rect x="1062.0" y="232" width="15" height="3" fill="#089981"/>
<rect x="1088.0" y="228" width="1" height="13" fill="#f23645"/>
<rect x="1081.0" y="229" width="15" height="11" fill="#f23645"/>
<rect x="1107.0" y="232" width="1" height="17" fill="#f23645"/>
<rect x="1100.0" y="236" width="15" height="6" fill="#f23645"/>
<rect x="1126.0" y="223" width="1" height="28" fill="#f23645"/>
<rect x="1119.0" y="223" width="15" height="26" fill="#f23645"/>
<rect x="1146.0" y="263" width="1" height="21" fill="#f23645"/>
<rect x="1139.0" y="263" width="15" height="15" fill="#f23645"/>
<rect x="1158.5" y="251.5" width="14" height="16" fill="none" stroke="#089981" stroke-width="1"/>
<rect x="1184.0" y="246" width="1" height="16" fill="#f23645"/>
<rect x="1177.0" y="249" width="15" height="11" fill="#f23645"/>
<rect x="1203.0" y="244" width="1" height="2" fill="#089981"/>
<rect x="1203.0" y="258" width="1" height="1" fill="#089981"/>
<rect x="1196.5" y="246.5" width="14" height="11" fill="none" stroke="#089981" stroke-width="1"/>
<rect x="1223.0" y="234" width="1" height="22" fill="#f23645"/>
<rect x="1216.0" y="237" width="15" height="12" fill="#f23645"/>
<rect x="1242.0" y="232" width="1" height="2" fill="#089981"/>
<rect x="1235.5" y="234.5" width="14" height="10" fill="none" stroke="#089981" stroke-width="1"/>
<rect x="1261.0" y="229" width="1" height="12" fill="#f23645"/>
<rect x="1254.0" y="234" width="15" height="5" fill="#f23645"/>
<rect x="1280.0" y="233" width="1" height="2" fill="#089981"/>
<rect x="1273.5" y="218.5" width="14" height="14" fill="none" stroke="#089981" stroke-width="1"/>
<rect x="1300.0" y="208" width="1" height="10" fill="#089981"/>
<rect x="1293.0" y="212" width="15" height="2" fill="#089981"/>
<rect x="1319.0" y="210" width="1" height="1" fill="#089981"/>
<rect x="1319.0" y="217" width="1" height="2" fill="#089981"/>
<rect x="1312.5" y="211.5" width="14" height="5" fill="none" stroke="#089981" stroke-width="1"/>
<rect x="1338.0" y="208" width="1" height="11" fill="#f23645"/>
<rect x="1331.0" y="209" width="15" height="9" fill="#f23645"/>
<rect x="1357.0" y="215" width="1" height="5" fill="#f23645"/>
<rect x="1350.0" y="217" width="15" height="2" fill="#f23645"/>
<rect x="1377.0" y="215" width="1" height="16" fill="#f23645"/>
<rect x="1370.0" y="218" width="15" height="11" fill="#f23645"/>
<rect x="1396.0" y="228" width="1" height="19" fill="#f23645"/>
<rect x="1389.0" y="229" width="15" height="4" fill="#f23645"/>
<rect x="1415.0" y="233" width="1" height="11" fill="#f23645"/>
<rect x="1408.0" y="236" width="15" height="4" fill="#f23645"/>
<rect x="1434.0" y="208" width="1" height="4" fill="#089981"/>
<rect x="1427.5" y="212.5" width="14" height="23" fill="none" stroke="#089981" stroke-width="1"/>
<rect x="1454.0" y="212" width="1" height="9" fill="#f23645"/>
<rect x="1447.0" y="214" width="15" height="7" fill="#f23645"/>
<rect x="1473.0" y="211" width="1" height="1" fill="#089981"/>
<rect x="1473.0" y="222" width="1" height="1" fill="#089981"/>
<rect x="1466.5" y="212.5" width="14" height="9" fill="none" stroke="#089981" stroke-width="1"/>
<rect x="1492.0" y="206" width="1" height="2" fill="#089981"/>
<rect x="1485.5" y="208.5" width="14" height="5" fill="none" stroke="#089981" stroke-width="1"/>
<rect x="1512.0" y="200" width="1" height="2" fill="#089981"/>
<rect x="1512.0" y="208" width="1" height="4" fill="#089981"/>
<rect x="1505.5" y="202.5" width="14" height="5" fill="none" stroke="#089981" stroke-width="1"/>
<rect x="1531.0" y="205" width="1" height="13" fill="#f23645"/>
<rect x="1524.0" y="206" width="15" height="9" fill="#f23645"/>
<rect x="1550.0" y="231" width="1" height="11" fill="#f23645"/>
<rect x="1543.5" y="226.5" width="14" height="4" fill="none" stroke="#f23645" stroke-width="1"/>
</g>
<line x1="10" y1="200.5" x2="1741" y2="200.5" stroke="#5d606b" stroke-width="1" stroke-dasharray="1.3 2.6"/>
<line x1="10" y1="464.5" x2="1741" y2="464.5" stroke="#5d606b" stroke-width="1" stroke-dasharray="1.3 2.6"/>
<line x1="10" y1="226.5" x2="1704" y2="226.5" stroke="#f23645" stroke-width="1.2" stroke-dasharray="1.5 2.6"/>
<text x="18.1" y="147.3" font-size="12.6" fill="#131722" font-weight="normal" text-anchor="start" textLength="18.9" lengthAdjust="spacingAndGlyphs" >SPX</text>
<text x="48.7" y="147.3" font-size="12.6" fill="#131722" font-weight="normal" text-anchor="start" textLength="75.9" lengthAdjust="spacingAndGlyphs" >S&amp;P 500 Index</text>
<text x="137.1" y="147.3" font-size="12.6" fill="#131722" font-weight="normal" text-anchor="start" textLength="12.4" lengthAdjust="spacingAndGlyphs" >1D</text>
<text x="162.3" y="147.3" font-size="12.6" fill="#131722" font-weight="normal" text-anchor="start" textLength="32.3" lengthAdjust="spacingAndGlyphs" >SPCFD</text>
<circle cx="43" cy="143.0" r="1.05" fill="#131722"/>
<circle cx="130.7" cy="143.0" r="1.05" fill="#131722"/>
<circle cx="155.9" cy="143.0" r="1.05" fill="#131722"/>
<text x="202.7" y="147.3" font-size="12.6" fill="#131722" font-weight="normal" text-anchor="start" textLength="7.4" lengthAdjust="spacingAndGlyphs" >O</text>
<text x="210.6" y="147.3" font-size="12.6" fill="#f23645" font-weight="normal" text-anchor="start" textLength="39.9" lengthAdjust="spacingAndGlyphs" >6,401.5</text>
<text x="258.2" y="147.3" font-size="12.6" fill="#131722" font-weight="normal" text-anchor="start" textLength="7.4" lengthAdjust="spacingAndGlyphs" >H</text>
<text x="266.2" y="147.3" font-size="12.6" fill="#f23645" font-weight="normal" text-anchor="start" textLength="39.8" lengthAdjust="spacingAndGlyphs" >6,416.5</text>
<text x="313.7" y="147.3" font-size="12.6" fill="#131722" font-weight="normal" text-anchor="start" textLength="6" lengthAdjust="spacingAndGlyphs" >L</text>
<text x="320.2" y="147.3" font-size="12.6" fill="#f23645" font-weight="normal" text-anchor="start" textLength="39.3" lengthAdjust="spacingAndGlyphs" >6,360.6</text>
<text x="367.2" y="147.3" font-size="12.6" fill="#131722" font-weight="normal" text-anchor="start" textLength="6.7" lengthAdjust="spacingAndGlyphs" >C</text>
<text x="374.3" y="147.3" font-size="12.6" fill="#f23645" font-weight="normal" text-anchor="start" textLength="39.9" lengthAdjust="spacingAndGlyphs" >6,415.5</text>
<text x="422.1" y="147.3" font-size="12.6" fill="#f23645" font-weight="normal" text-anchor="start" textLength="78.2" lengthAdjust="spacingAndGlyphs" >−44.7 (−0.69%)</text>
<line x1="10" y1="592.3" x2="1817.2" y2="592.3" stroke="#e0e3eb" stroke-width="1.3"/>
<line x1="10" y1="627.5" x2="1741" y2="627.5" stroke="#f1f2f5"/>
<line x1="10" y1="673.5" x2="1741" y2="673.5" stroke="#f1f2f5"/>
<g clip-path="url(#cd)">
<rect x="837" y="693.9" width="62" height="29.1" fill="#d2d2d2" stroke="#000" stroke-width="2"/>
<text x="841.9" y="714.8" font-size="20" fill="#000" font-weight="normal" text-anchor="start" textLength="51.3" lengthAdjust="spacingAndGlyphs" stroke="#000" stroke-width="0.7">MACD</text>
<rect x="0" y="681.1" width="18" height="37.4" fill="#2962ff"/>
<rect x="19" y="684.0" width="19" height="34.5" fill="#2962ff"/>
<rect x="39" y="687.9" width="18" height="30.6" fill="#2962ff"/>
<rect x="58" y="681.1" width="18" height="37.4" fill="#2962ff"/>
<rect x="77" y="677.0" width="18" height="41.5" fill="#2962ff"/>
<rect x="96" y="675.9" width="19" height="42.6" fill="#2962ff"/>
<rect x="116" y="677.0" width="18" height="41.5" fill="#2962ff"/>
<rect x="135" y="677.0" width="18" height="41.5" fill="#2962ff"/>
<rect x="154" y="680.0" width="18" height="38.5" fill="#2962ff"/>
<rect x="173" y="686.1" width="19" height="32.4" fill="#2962ff"/>
<rect x="193" y="697.1" width="18" height="21.4" fill="#2962ff"/>
<rect x="212" y="706.1" width="18" height="12.4" fill="#2962ff"/>
<rect x="231" y="716.1" width="18" height="2.4" fill="#2962ff"/>
<rect x="250" y="716.1" width="19" height="2.4" fill="#2962ff"/>
<rect x="270" y="718.5" width="18" height="1.1" fill="#2962ff"/>
<rect x="289" y="718.5" width="18" height="2.2" fill="#2962ff"/>
<rect x="308" y="718.5" width="18" height="3.3" fill="#2962ff"/>
<rect x="327" y="718.5" width="19" height="3.3" fill="#2962ff"/>
<rect x="347" y="718.5" width="18" height="2.2" fill="#2962ff"/>
<rect x="366" y="718.5" width="18" height="2.2" fill="#2962ff"/>
<rect x="385" y="718.5" width="18" height="4.4" fill="#2962ff"/>
<rect x="404" y="718.5" width="19" height="3.3" fill="#2962ff"/>
<rect x="424" y="718.5" width="18" height="2.2" fill="#2962ff"/>
<rect x="443" y="718.1" width="18" height="0.8" fill="#2962ff"/>
<rect x="462" y="718.5" width="19" height="1.4" fill="#2962ff"/>
<rect x="482" y="718.5" width="18" height="1.4" fill="#2962ff"/>
<rect x="501" y="718.5" width="18" height="5.5" fill="#2962ff"/>
<rect x="520" y="718.5" width="18" height="5.5" fill="#2962ff"/>
<rect x="539" y="718.5" width="19" height="8.6" fill="#2962ff"/>
<rect x="559" y="718.5" width="18" height="11.4" fill="#2962ff"/>
<rect x="578" y="718.5" width="18" height="13.2" fill="#2962ff"/>
<rect x="597" y="718.5" width="18" height="11.4" fill="#2962ff"/>
<rect x="616" y="718.5" width="19" height="6.6" fill="#2962ff"/>
<rect x="636" y="718.5" width="18" height="4.4" fill="#2962ff"/>
<rect x="655" y="717.2" width="18" height="1.3" fill="#2962ff"/>
<rect x="674" y="713.1" width="18" height="5.4" fill="#2962ff"/>
<rect x="693" y="710.2" width="19" height="8.3" fill="#2962ff"/>
<rect x="713" y="709.1" width="18" height="9.4" fill="#2962ff"/>
<rect x="732" y="708.0" width="18" height="10.5" fill="#2962ff"/>
<rect x="751" y="706.1" width="18" height="12.4" fill="#2962ff"/>
<rect x="770" y="708.0" width="19" height="10.5" fill="#2962ff"/>
<rect x="790" y="710.9" width="18" height="7.6" fill="#2962ff"/>
<rect x="809" y="712.0" width="18" height="6.5" fill="#2962ff"/>
<rect x="828" y="713.1" width="18" height="5.4" fill="#2962ff"/>
<rect x="847" y="715.3" width="19" height="3.2" fill="#2962ff"/>
<rect x="867" y="717.2" width="18" height="1.3" fill="#2962ff"/>
<rect x="886" y="718.5" width="18" height="2.7" fill="#2962ff"/>
<rect x="905" y="718.5" width="19" height="4.2" fill="#2962ff"/>
<rect x="925" y="718.5" width="18" height="4.2" fill="#2962ff"/>
<rect x="944" y="718.5" width="18" height="4.2" fill="#2962ff"/>
<rect x="963" y="718.5" width="18" height="4.2" fill="#2962ff"/>
<rect x="982" y="718.5" width="19" height="5.3" fill="#2962ff"/>
<rect x="1002" y="718.5" width="18" height="2.7" fill="#2962ff"/>
<rect x="1021" y="718.5" width="18" height="1.6" fill="#2962ff"/>
<rect x="1040" y="718.1" width="18" height="0.8" fill="#2962ff"/>
<rect x="1059" y="718.1" width="19" height="0.8" fill="#2962ff"/>
<rect x="1079" y="718.5" width="18" height="1.1" fill="#2962ff"/>
<rect x="1098" y="718.5" width="18" height="3.1" fill="#2962ff"/>
<rect x="1117" y="718.5" width="18" height="6.4" fill="#2962ff"/>
<rect x="1136" y="718.5" width="19" height="15.1" fill="#2962ff"/>
<rect x="1156" y="718.5" width="18" height="14.2" fill="#2962ff"/>
<rect x="1175" y="718.5" width="18" height="16.3" fill="#2962ff"/>
<rect x="1194" y="718.5" width="18" height="14.2" fill="#2962ff"/>
<rect x="1213" y="718.5" width="19" height="12.2" fill="#2962ff"/>
<rect x="1233" y="718.5" width="18" height="9.1" fill="#2962ff"/>
<rect x="1252" y="718.5" width="18" height="7.2" fill="#2962ff"/>
<rect x="1271" y="718.5" width="18" height="1.9" fill="#2962ff"/>
<rect x="1290" y="716.0" width="19" height="2.5" fill="#2962ff"/>
<rect x="1310" y="714.1" width="18" height="4.4" fill="#2962ff"/>
<rect x="1329" y="714.8" width="18" height="3.7" fill="#2962ff"/>
<rect x="1348" y="716.0" width="19" height="2.5" fill="#2962ff"/>
<rect x="1368" y="718.5" width="18" height="1.2" fill="#2962ff"/>
<rect x="1387" y="718.5" width="18" height="5.2" fill="#2962ff"/>
<rect x="1406" y="718.5" width="18" height="8.1" fill="#2962ff"/>
<rect x="1425" y="718.5" width="19" height="5.2" fill="#2962ff"/>
<rect x="1445" y="718.5" width="18" height="5.2" fill="#2962ff"/>
<rect x="1464" y="718.5" width="18" height="3.1" fill="#2962ff"/>
<rect x="1483" y="718.5" width="18" height="2.1" fill="#2962ff"/>
<rect x="1502" y="718.1" width="19" height="0.8" fill="#2962ff"/>
<rect x="1522" y="718.5" width="18" height="2.1" fill="#2962ff"/>
<rect x="1541" y="718.5" width="18" height="6.2" fill="#2962ff"/>
<line x1="10" y1="718.5" x2="1741" y2="718.5" stroke="#131722" stroke-opacity="0.6" stroke-width="1" stroke-dasharray="5 6"/>
<polyline fill="none" stroke="#ff9800" stroke-width="2" stroke-linejoin="round" points="9.5,724 29.5,716.1 48.5,708.7 67.5,699.3 86.5,689.4 106.5,678.9 125.5,668 144.5,657.7 163.5,648.3 183.5,640.6 202.5,635.8 221.5,632.5 240.5,631.8 260.5,631.4 279.5,631.8 298.5,632.1 317.5,632.9 337.5,633.6 356.5,634 375.5,634.3 394.5,635.4 414.5,636.4 433.5,636.9 452.5,636.9 472.5,637.3 491.5,637.3 510.5,638.4 529.5,639.5 549.5,641.9 568.5,644.5 587.5,648.3 606.5,651.1 626.5,652.6 645.5,653.5 664.5,653.3 683.5,652.2 703.5,650 722.5,647.8 741.5,645.2 760.5,642.6 780.5,640.2 799.5,638.4 818.5,636.9 837.5,635.6 857.5,634.7 876.5,634.7 895.5,635.8 914.5,636.9 934.5,638 953.5,639.1 972.5,640.2 992.5,641.5 1011.5,641.9 1030.5,642.4 1049.5,642.6 1069.5,642.4 1088.5,642.8 1107.5,643.7 1126.5,645.2 1146.5,648.8 1165.5,652.2 1184.5,655.8 1203.5,659.4 1223.5,662.6 1242.5,665 1261.5,666.9 1280.5,667.4 1300.5,667.4 1319.5,666.2 1338.5,665 1357.5,664.5 1377.5,665 1396.5,666.4 1415.5,668.6 1434.5,669.8 1454.5,671 1473.5,671.7 1492.5,672.2 1512.5,672.2 1531.5,672.9 1550.5,674.1"/>
<polyline fill="none" stroke="#000" stroke-width="2" stroke-linejoin="round" points="9.5,687.2 29.5,681.8 48.5,678.5 67.5,662.5 86.5,647.8 106.5,636.9 125.5,626.4 144.5,617.2 163.5,610.6 183.5,608 202.5,614.3 221.5,620.5 240.5,629.9 260.5,628.8 279.5,632.1 298.5,633.6 317.5,635.8 337.5,636.9 356.5,635.8 375.5,635.8 394.5,639.7 414.5,638.6 433.5,638.4 452.5,636.9 472.5,638 491.5,638 510.5,643.9 529.5,645 549.5,650.7 568.5,656.1 587.5,661.6 606.5,662.5 626.5,659.2 645.5,657 664.5,652.2 683.5,647.2 703.5,642.4 722.5,639.1 741.5,635.8 760.5,629.9 780.5,630.3 799.5,632.1 818.5,631 837.5,630.5 857.5,632.1 876.5,634 895.5,638.4 914.5,641.7 934.5,642.4 953.5,643.5 972.5,645 992.5,646.3 1011.5,645 1030.5,643.9 1049.5,642.8 1069.5,642.4 1088.5,643.9 1107.5,646.7 1126.5,651.6 1146.5,663.1 1165.5,666.7 1184.5,671.5 1203.5,673.2 1223.5,675.3 1242.5,673.9 1261.5,674.4 1280.5,669.6 1300.5,665.5 1319.5,662.6 1338.5,661.8 1357.5,662.6 1377.5,666.2 1396.5,671 1415.5,677 1434.5,675.1 1454.5,676.3 1473.5,675.6 1492.5,674.4 1512.5,672 1531.5,674.6 1550.5,680.2"/>
</g>
<text x="86.5" y="770" font-size="14.6" fill="#131722" font-weight="normal" text-anchor="middle" textLength="15.6" lengthAdjust="spacingAndGlyphs" >13</text>
<text x="163.5" y="770" font-size="14.6" fill="#131722" font-weight="normal" text-anchor="middle" textLength="15.6" lengthAdjust="spacingAndGlyphs" >19</text>
<text x="240.5" y="770" font-size="14.6" fill="#131722" font-weight="normal" text-anchor="middle" textLength="15.6" lengthAdjust="spacingAndGlyphs" >23</text>
<text x="337.5" y="770" font-size="14.6" fill="#131722" font-weight="bold" text-anchor="middle" textLength="27" lengthAdjust="spacingAndGlyphs" >Jun</text>
<text x="414.5" y="770" font-size="14.6" fill="#131722" font-weight="normal" text-anchor="middle" textLength="7.4" lengthAdjust="spacingAndGlyphs" >6</text>
<text x="491.5" y="770" font-size="14.6" fill="#131722" font-weight="normal" text-anchor="middle" textLength="15.6" lengthAdjust="spacingAndGlyphs" >12</text>
<text x="568.5" y="770" font-size="14.6" fill="#131722" font-weight="normal" text-anchor="middle" textLength="15.6" lengthAdjust="spacingAndGlyphs" >18</text>
<text x="645.5" y="770" font-size="14.6" fill="#131722" font-weight="normal" text-anchor="middle" textLength="15.6" lengthAdjust="spacingAndGlyphs" >25</text>
<text x="722.5" y="770" font-size="14.6" fill="#131722" font-weight="bold" text-anchor="middle" textLength="22.5" lengthAdjust="spacingAndGlyphs" >Jul</text>
<text x="799.5" y="770" font-size="14.6" fill="#131722" font-weight="normal" text-anchor="middle" textLength="7.4" lengthAdjust="spacingAndGlyphs" >8</text>
<text x="876.5" y="770" font-size="14.6" fill="#131722" font-weight="normal" text-anchor="middle" textLength="15.6" lengthAdjust="spacingAndGlyphs" >14</text>
<text x="953.5" y="770" font-size="14.6" fill="#131722" font-weight="normal" text-anchor="middle" textLength="15.6" lengthAdjust="spacingAndGlyphs" >18</text>
<text x="1030.5" y="770" font-size="14.6" fill="#131722" font-weight="normal" text-anchor="middle" textLength="15.6" lengthAdjust="spacingAndGlyphs" >24</text>
<text x="1146.5" y="770" font-size="14.6" fill="#131722" font-weight="bold" text-anchor="middle" textLength="28" lengthAdjust="spacingAndGlyphs" >Aug</text>
<text x="1223.5" y="770" font-size="14.6" fill="#131722" font-weight="normal" text-anchor="middle" textLength="7.4" lengthAdjust="spacingAndGlyphs" >7</text>
<text x="1300.5" y="770" font-size="14.6" fill="#131722" font-weight="normal" text-anchor="middle" textLength="15.6" lengthAdjust="spacingAndGlyphs" >13</text>
<text x="1377.5" y="770" font-size="14.6" fill="#131722" font-weight="normal" text-anchor="middle" textLength="15.6" lengthAdjust="spacingAndGlyphs" >19</text>
<text x="1454.5" y="770" font-size="14.6" fill="#131722" font-weight="normal" text-anchor="middle" textLength="15.6" lengthAdjust="spacingAndGlyphs" >25</text>
<text x="1550.5" y="770" font-size="14.6" fill="#131722" font-weight="bold" text-anchor="middle" textLength="27.5" lengthAdjust="spacingAndGlyphs" >Sep</text>
<text x="1627.5" y="770" font-size="14.6" fill="#131722" font-weight="normal" text-anchor="middle" textLength="7.4" lengthAdjust="spacingAndGlyphs" >8</text>
<text x="1704.5" y="770" font-size="14.6" fill="#131722" font-weight="normal" text-anchor="middle" textLength="15.6" lengthAdjust="spacingAndGlyphs" >12</text>
<clipPath id="c7"><rect x="10" y="750" width="20" height="30"/></clipPath>
<g clip-path="url(#c7)">
<text x="9.2" y="770" font-size="14.6" fill="#131722" font-weight="normal" text-anchor="middle" textLength="7.4" lengthAdjust="spacingAndGlyphs" >7</text>
</g>
<text x="1752.6" y="44.3" font-size="14.8" fill="#131722" font-weight="normal" text-anchor="start" textLength="38.4" lengthAdjust="spacingAndGlyphs" >75.00</text>
<text x="1752.6" y="177.8" font-size="14.8" fill="#131722" font-weight="normal" text-anchor="start" textLength="52.7" lengthAdjust="spacingAndGlyphs" >6,600.0</text>
<text x="1752.6" y="291.6" font-size="14.8" fill="#131722" font-weight="normal" text-anchor="start" textLength="52.7" lengthAdjust="spacingAndGlyphs" >6,200.0</text>
<text x="1752.6" y="348.5" font-size="14.8" fill="#131722" font-weight="normal" text-anchor="start" textLength="52.7" lengthAdjust="spacingAndGlyphs" >6,000.0</text>
<text x="1752.6" y="404.4" font-size="14.8" fill="#131722" font-weight="normal" text-anchor="start" textLength="52.7" lengthAdjust="spacingAndGlyphs" >5,800.0</text>
<text x="1752.6" y="461.1" font-size="14.8" fill="#131722" font-weight="normal" text-anchor="start" textLength="52.7" lengthAdjust="spacingAndGlyphs" >5,600.0</text>
<text x="1752.6" y="518.1" font-size="14.8" fill="#131722" font-weight="normal" text-anchor="start" textLength="52.7" lengthAdjust="spacingAndGlyphs" >5,400.0</text>
<text x="1752.6" y="575.2" font-size="14.8" fill="#131722" font-weight="normal" text-anchor="start" textLength="52.7" lengthAdjust="spacingAndGlyphs" >5,200.0</text>
<text x="1752.6" y="632.5" font-size="14.8" fill="#131722" font-weight="normal" text-anchor="start" textLength="40" lengthAdjust="spacingAndGlyphs" >100.0</text>
<text x="1752.6" y="721.8" font-size="14.8" fill="#131722" font-weight="normal" text-anchor="start" textLength="21" lengthAdjust="spacingAndGlyphs" >0.0</text>
<rect x="1742" y="68" width="56" height="23" rx="2" fill="#787b86"/>
<text x="1752.6" y="83.7" font-size="14.8" fill="#fff" font-weight="normal" text-anchor="start" textLength="38.4" lengthAdjust="spacingAndGlyphs" stroke="#fff" stroke-width="0.3">52.49</text>
<rect x="1704" y="215" width="37" height="23" rx="2" fill="#f23645"/>
<text x="1709.6" y="230.7" font-size="14.8" fill="#fff" font-weight="normal" text-anchor="start" textLength="25.6" lengthAdjust="spacingAndGlyphs" stroke="#fff" stroke-width="0.3">SPX</text>
<rect x="1742" y="215" width="70" height="23" rx="2" fill="#f23645"/>
<rect x="1742" y="226.5" width="70" height="11.5" fill="#f23645"/>
<text x="1752.6" y="230.7" font-size="14.8" fill="#fff" font-weight="normal" text-anchor="start" textLength="52.7" lengthAdjust="spacingAndGlyphs" stroke="#fff" stroke-width="0.3">6,415.5</text>
<rect x="1742" y="238" width="70" height="23" rx="2" fill="#089981"/>
<rect x="1742" y="238" width="70" height="11.5" fill="#089981"/>
<rect x="1742" y="249.5" width="70" height="11.5" fill="#089981"/>
<text x="1752.6" y="253.7" font-size="14.8" fill="#fff" font-weight="normal" text-anchor="start" textLength="52.7" lengthAdjust="spacingAndGlyphs" stroke="#fff" stroke-width="0.3">6,415.4</text>
<rect x="1742" y="261" width="70" height="23" rx="2" fill="#2962ff"/>
<rect x="1742" y="261" width="70" height="11.5" fill="#2962ff"/>
<text x="1752.6" y="276.7" font-size="14.8" fill="#fff" font-weight="normal" text-anchor="start" textLength="52.7" lengthAdjust="spacingAndGlyphs" stroke="#fff" stroke-width="0.3">6,325.1</text>
<rect x="1742" y="344" width="70" height="23" rx="2" fill="#f23645"/>
<text x="1752.6" y="359.7" font-size="14.8" fill="#fff" font-weight="normal" text-anchor="start" textLength="52.7" lengthAdjust="spacingAndGlyphs" stroke="#fff" stroke-width="0.3">5,961.5</text>
<rect x="1742" y="512" width="59" height="23" rx="2" fill="#26a69a"/>
<text x="1752.6" y="527.7" font-size="14.8" fill="#fff" font-weight="normal" text-anchor="start" textLength="42.5" lengthAdjust="spacingAndGlyphs" stroke="#fff" stroke-width="0.3">2.77B</text>
<rect x="1742" y="646" width="48" height="23" rx="2" fill="#ff9800"/>
<rect x="1742" y="657.5" width="48" height="11.5" fill="#ff9800"/>
<text x="1752.6" y="661.7" font-size="14.8" fill="#131722" font-weight="normal" text-anchor="start" textLength="30" lengthAdjust="spacingAndGlyphs" stroke="#131722" stroke-width="0.3">48.2</text>
<rect x="1742" y="669" width="48" height="23" rx="2" fill="#000"/>
<rect x="1742" y="669" width="48" height="11.5" fill="#000"/>
<text x="1752.6" y="684.7" font-size="14.8" fill="#fff" font-weight="normal" text-anchor="start" textLength="30" lengthAdjust="spacingAndGlyphs" stroke="#fff" stroke-width="0.3">42.0</text>
<rect x="1742" y="713" width="48" height="23" rx="2" fill="#2962ff"/>
<text x="1752.6" y="728.7" font-size="14.8" fill="#fff" font-weight="normal" text-anchor="start" textLength="30" lengthAdjust="spacingAndGlyphs" stroke="#fff" stroke-width="0.3">−6.2</text>
<rect x="9.7" y="26.7" width="1807.5" height="755.8" fill="none" stroke="#e9eaed" stroke-width="1.6"/>
<g fill="#131722"><path d="M12.1,805.1 H24.2 V819.9 H17.8 V811.4 H12.1 Z"/><circle cx="29.2" cy="808.3" r="3"/><path d="M34.9,805.1 H41.7 L35.6,819.9 H29 Z"/></g>
<text x="49.1" y="819.9" font-size="20.3" fill="#131722" font-weight="bold" text-anchor="start" textLength="121" lengthAdjust="spacingAndGlyphs" stroke="#131722" stroke-width="0.5">TradingView</text>
</svg></body></html>
